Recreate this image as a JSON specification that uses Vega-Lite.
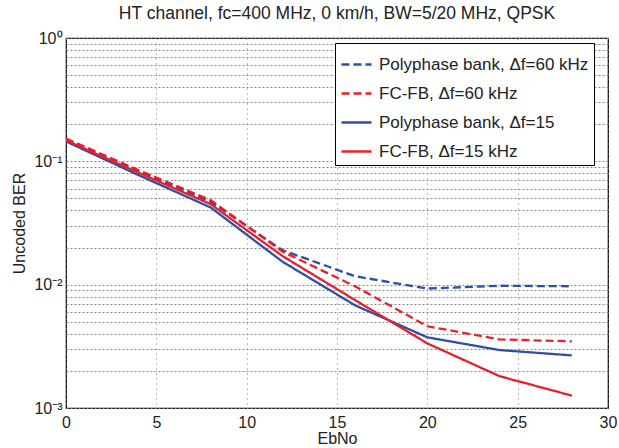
{
  "$schema": "https://vega.github.io/schema/vega-lite/v6.json",
  "autosize": "none",
  "width": 542,
  "height": 370,
  "padding": {"left": 66, "top": 38, "right": 11, "bottom": 40},
  "background": "white",
  "config": {
    "font": "Liberation Sans",
    "view": {"stroke": "black", "strokeWidth": 1.2},
    "axis": {"labelFont": "Liberation Sans", "titleFont": "Liberation Sans", "labelColor": "#222", "titleColor": "#222", "titleFontWeight": "normal", "domain": false}
  },
  "title": {"text": "HT channel, fc=400 MHz, 0 km/h, BW=5/20 MHz, QPSK", "fontSize": 17.5, "fontWeight": "normal", "color": "#222", "offset": 8, "font": "Liberation Sans"},
  "data": {
    "values": [
      {"EbNo": 0, "BER": 0.150, "series": "Polyphase bank, Δf=60 kHz"},
      {"EbNo": 4, "BER": 0.083, "series": "Polyphase bank, Δf=60 kHz"},
      {"EbNo": 8, "BER": 0.047, "series": "Polyphase bank, Δf=60 kHz"},
      {"EbNo": 12, "BER": 0.019, "series": "Polyphase bank, Δf=60 kHz"},
      {"EbNo": 16, "BER": 0.0117, "series": "Polyphase bank, Δf=60 kHz"},
      {"EbNo": 20, "BER": 0.0093, "series": "Polyphase bank, Δf=60 kHz"},
      {"EbNo": 24, "BER": 0.0098, "series": "Polyphase bank, Δf=60 kHz"},
      {"EbNo": 28, "BER": 0.0097, "series": "Polyphase bank, Δf=60 kHz"},
      {"EbNo": 0, "BER": 0.153, "series": "FC-FB, Δf=60 kHz"},
      {"EbNo": 4, "BER": 0.085, "series": "FC-FB, Δf=60 kHz"},
      {"EbNo": 8, "BER": 0.0485, "series": "FC-FB, Δf=60 kHz"},
      {"EbNo": 12, "BER": 0.0185, "series": "FC-FB, Δf=60 kHz"},
      {"EbNo": 16, "BER": 0.0097, "series": "FC-FB, Δf=60 kHz"},
      {"EbNo": 20, "BER": 0.0046, "series": "FC-FB, Δf=60 kHz"},
      {"EbNo": 24, "BER": 0.0036, "series": "FC-FB, Δf=60 kHz"},
      {"EbNo": 28, "BER": 0.00347, "series": "FC-FB, Δf=60 kHz"},
      {"EbNo": 0, "BER": 0.145, "series": "Polyphase bank, Δf=15"},
      {"EbNo": 4, "BER": 0.0775, "series": "Polyphase bank, Δf=15"},
      {"EbNo": 8, "BER": 0.0423, "series": "Polyphase bank, Δf=15"},
      {"EbNo": 12, "BER": 0.0153, "series": "Polyphase bank, Δf=15"},
      {"EbNo": 16, "BER": 0.0068, "series": "Polyphase bank, Δf=15"},
      {"EbNo": 20, "BER": 0.00374, "series": "Polyphase bank, Δf=15"},
      {"EbNo": 24, "BER": 0.00295, "series": "Polyphase bank, Δf=15"},
      {"EbNo": 28, "BER": 0.00267, "series": "Polyphase bank, Δf=15"},
      {"EbNo": 0, "BER": 0.148, "series": "FC-FB, Δf=15 kHz"},
      {"EbNo": 4, "BER": 0.081, "series": "FC-FB, Δf=15 kHz"},
      {"EbNo": 8, "BER": 0.045, "series": "FC-FB, Δf=15 kHz"},
      {"EbNo": 12, "BER": 0.017, "series": "FC-FB, Δf=15 kHz"},
      {"EbNo": 16, "BER": 0.0075, "series": "FC-FB, Δf=15 kHz"},
      {"EbNo": 20, "BER": 0.00334, "series": "FC-FB, Δf=15 kHz"},
      {"EbNo": 24, "BER": 0.00181, "series": "FC-FB, Δf=15 kHz"},
      {"EbNo": 28, "BER": 0.00126, "series": "FC-FB, Δf=15 kHz"}
    ]
  },
  "mark": {"type": "line", "strokeWidth": 2.3, "clip": true},
  "encoding": {
    "x": {
      "field": "EbNo", "type": "quantitative",
      "scale": {"domain": [0, 30], "nice": false, "zero": false},
      "axis": {"title": "EbNo", "values": [0, 5, 10, 15, 20, 25, 30], "labelFontSize": 16, "titleFontSize": 16, "ticks": false, "labelPadding": 6, "titlePadding": 0, "grid": true, "gridColor": "#777", "gridDash": [1, 4], "gridWidth": 1, "labelFlush": false}
    },
    "y": {
      "field": "BER", "type": "quantitative",
      "scale": {"type": "log", "domain": [0.001, 1], "nice": false},
      "axis": {
        "title": "Uncoded BER",
        "values": [0.001, 0.002, 0.003, 0.004, 0.005, 0.006, 0.007, 0.008, 0.009, 0.01, 0.02, 0.03, 0.04, 0.05, 0.06, 0.07, 0.08, 0.09, 0.1, 0.2, 0.3, 0.4, 0.5, 0.6, 0.7, 0.8, 0.9, 1],
        "labelExpr": "datum.value > 0.999 ? '10⁰' : (datum.value > 0.0999 && datum.value < 0.1001) ? '10⁻¹' : (datum.value > 0.00999 && datum.value < 0.01001) ? '10⁻²' : (datum.value > 0.000999 && datum.value < 0.001001) ? '10⁻³' : ''",
        "labelFontSize": 16, "titleFontSize": 16, "ticks": false, "labelPadding": 4, "titlePadding": 6,
        "grid": true, "gridColor": "#888", "gridDash": [2, 2], "gridWidth": 1, "labelFlush": false, "labelOverlap": false
      }
    },
    "color": {
      "field": "series", "type": "nominal",
      "scale": {"domain": ["Polyphase bank, Δf=60 kHz", "FC-FB, Δf=60 kHz", "Polyphase bank, Δf=15", "FC-FB, Δf=15 kHz"], "range": ["#2E4FA3", "#E8202A", "#2E4FA3", "#E8202A"]},
      "legend": {"title": null, "orient": "none", "legendX": 269, "legendY": 5, "fillColor": "white", "strokeColor": "black", "padding": 5, "labelFontSize": 17, "labelColor": "#222", "symbolType": "stroke", "symbolSize": 900, "symbolStrokeWidth": 2.3, "rowPadding": 4, "labelOffset": 6, "labelLimit": 400}
    },
    "strokeDash": {
      "field": "series", "type": "nominal",
      "scale": {"domain": ["Polyphase bank, Δf=60 kHz", "FC-FB, Δf=60 kHz", "Polyphase bank, Δf=15", "FC-FB, Δf=15 kHz"], "range": [[8, 4], [8, 4], [1, 0], [1, 0]]},
      "legend": {"title": null, "orient": "none", "legendX": 269, "legendY": 5}
    }
  }
}
